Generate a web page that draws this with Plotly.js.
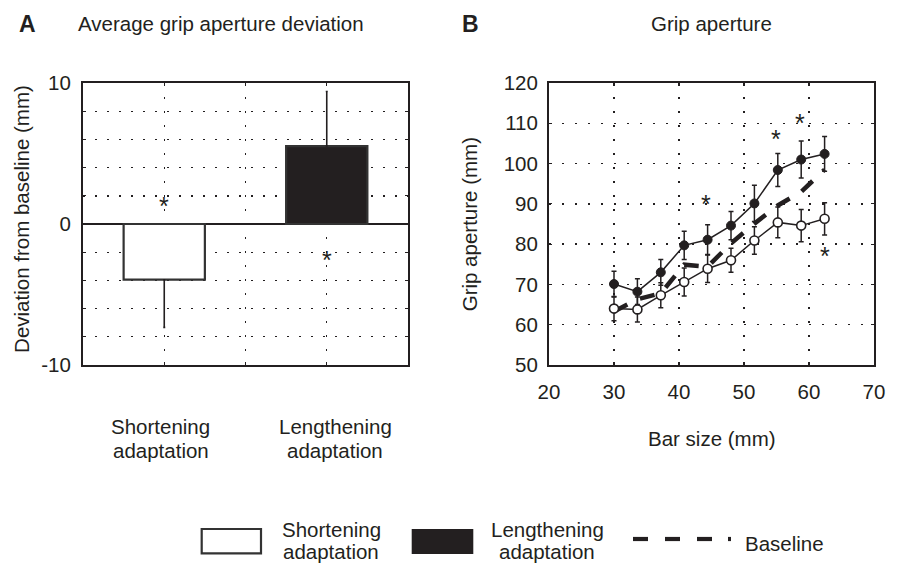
<!DOCTYPE html>
<html>
<head>
<meta charset="utf-8">
<script src="https://cdn.plot.ly/plotly-3.0.1.min.js"></script>
<style>
  html, body { margin: 0; padding: 0; background: #ffffff; }
  #chart { width: 897px; height: 564px; }
</style>
</head>
<body>
<div id="chart"></div>
<script>
// ---------- Panel A data ----------
const conditionsA = ['Shortening adaptation', 'Lengthening adaptation'];
const categoryLinesA = [['Shortening', 'adaptation'], ['Lengthening', 'adaptation']];
const positionsA = [1, 2];
const deviationA = [-3.95, 5.53];
const errUpA = [0, 3.87];
const errDownA = [3.38, 0];
const yTicksA = [-10, -8, -6, -4, -2, 0, 2, 4, 6, 8, 10];
const yTickLabelsA = ['-10', '', '', '', '', '0', '', '', '', '', '10'];
const xGridA = [1, 1.5, 2];
const starXA = [1, 2];
const starYA = [1.72, -2.18];

// ---------- Panel B data ----------
const barSize = [30, 33.6, 37.2, 40.8, 44.4, 48.0, 51.6, 55.2, 58.8, 62.4];
const lengthening = [70.1, 68.2, 73.0, 79.7, 81.1, 84.6, 90.1, 98.4, 101.0, 102.4];
const lengtheningErr = [3.2, 3.2, 3.2, 3.5, 3.7, 3.5, 4.5, 4.1, 4.6, 4.3];
const shortening = [64.0, 63.8, 67.3, 70.6, 73.9, 76.0, 80.9, 85.4, 84.6, 86.3];
const shorteningErr = [3.0, 3.1, 3.1, 3.5, 3.4, 3.0, 3.4, 3.8, 4.0, 4.0];
const baseline = [63.3, 66.3, 67.8, 74.9, 74.4, 80.2, 85.1, 89.6, 93.0, 98.5];
const starXB = [44.2, 54.9, 58.6, 62.5];
const starYB = [91.4, 107.5, 111.5, 78.5];
const xTicksB = [20, 30, 40, 50, 60, 70];
const yTicksB = [50, 60, 70, 80, 90, 100, 110, 120];

// ---------- layout helpers ----------
const W = 897, H = 564;
const px = v => v / W;
const py = v => 1 - v / H;
const INK = '#231f20';
const FONT = 'Liberation Sans, Arial, Helvetica, sans-serif';
const FS = 20.5;
const STAR_FS = 25;

const traces = [
  {
    type: 'bar', x: positionsA, y: deviationA, width: 0.5,
    xaxis: 'x', yaxis: 'y',
    text: conditionsA, hoverinfo: 'text+y', textposition: 'none',
    marker: { color: ['#ffffff', INK], line: { color: '#333333', width: 2.2 } },
    error_y: { type: 'data', symmetric: false, array: errUpA, arrayminus: errDownA,
               color: INK, thickness: 1.6, width: 1 },
    showlegend: false
  },
  {
    type: 'scatter', mode: 'lines', x: barSize, y: baseline,
    xaxis: 'x2', yaxis: 'y2',
    line: { color: INK, width: 4.5, dash: '15px,14px' },
    showlegend: false, name: 'Baseline'
  },
  {
    type: 'scatter', mode: 'lines+markers', x: barSize, y: lengthening,
    xaxis: 'x2', yaxis: 'y2',
    line: { color: INK, width: 1.5 },
    marker: { symbol: 'circle', size: 9, color: INK, line: { color: INK, width: 1 } },
    error_y: { type: 'data', array: lengtheningErr, color: INK, thickness: 1.5, width: 2.5 },
    showlegend: false, name: 'Lengthening adaptation'
  },
  {
    type: 'scatter', mode: 'lines+markers', x: barSize, y: shortening,
    xaxis: 'x2', yaxis: 'y2',
    line: { color: INK, width: 1.5 },
    marker: { symbol: 'circle', size: 9, color: '#ffffff', line: { color: INK, width: 1.6 } },
    error_y: { type: 'data', array: shorteningErr, color: INK, thickness: 1.5, width: 2.5 },
    showlegend: false, name: 'Shortening adaptation'
  }
];

const axisCommon = {
  showline: true, linecolor: INK, linewidth: 2, mirror: 'allticks',
  ticks: 'inside', ticklen: 3, tickwidth: 1.2, tickcolor: INK,
  showgrid: true, gridcolor: INK, gridwidth: 1.4,
  zeroline: false,
  tickfont: { family: FONT, size: FS, color: INK },
  fixedrange: true
};

const domX_A = [px(83), px(408)];
const domX_B = [px(549), px(874)];
const domY = [py(365), py(83)];

const annotations = [];
function txt(text, x, y, opts) {
  annotations.push(Object.assign({
    text: text, x: x, y: y, xref: 'paper', yref: 'paper', showarrow: false,
    xanchor: 'center', yanchor: 'middle',
    font: { family: FONT, size: FS, color: INK }
  }, opts || {}));
}
// panel letters & titles
txt('<b>A</b>', px(27.5), py(24.3), { font: { family: FONT, size: 23, color: INK } });
txt('Average grip aperture deviation', px(221), py(23.6));
txt('<b>B</b>', px(470), py(24.3), { font: { family: FONT, size: 23, color: INK } });
txt('Grip aperture', px(711.5), py(23.9));
// axis titles
txt('Deviation from baseline (mm)', px(21.4), py(218.5), { textangle: -90 });
txt('Grip aperture (mm)', px(469.3), py(224), { textangle: -90 });
txt('Bar size (mm)', px(712), py(438));
// category labels under panel A
const catCenters = [160.7, 335];
categoryLinesA.forEach((lines, i) => {
  txt(lines[0], px(catCenters[i]), py(426.2));
  txt(lines[1], px(catCenters[i]), py(450.2));
});
// asterisks
starXA.forEach((x, i) => annotations.push({
  text: '*', x: x, y: starYA[i], xref: 'x', yref: 'y', showarrow: false,
  yshift: -0.23 * STAR_FS, font: { family: FONT, size: STAR_FS, color: INK }
}));
starXB.forEach((x, i) => annotations.push({
  text: '*', x: x, y: starYB[i], xref: 'x2', yref: 'y2', showarrow: false,
  yshift: -0.23 * STAR_FS, font: { family: FONT, size: STAR_FS, color: INK }
}));
// legend texts
txt('Shortening', px(331), py(529.6));
txt('adaptation', px(331), py(551.2));
txt('Lengthening', px(547), py(529.6));
txt('adaptation', px(547), py(551.2));
txt('Baseline', px(784), py(543));

const shapes = [
  { type: 'rect', xref: 'paper', yref: 'paper', x0: px(201.7), x1: px(261), y0: py(553.3), y1: py(529),
    fillcolor: '#ffffff', line: { color: '#333333', width: 2.2 } },
  { type: 'rect', xref: 'paper', yref: 'paper', x0: px(411.7), x1: px(473.3), y0: py(554), y1: py(529),
    fillcolor: INK, line: { color: INK, width: 0 } }
];
// legend dashed-line sample: three dashes and a trailing dot
[[633, 648], [665, 680], [697, 712], [728, 731]].forEach(seg => shapes.push({
  type: 'line', xref: 'paper', yref: 'paper', x0: px(seg[0]), x1: px(seg[1]), y0: py(539), y1: py(539),
  line: { color: INK, width: 4.2 }
}));

const layout = {
  width: W, height: H, autosize: false,
  margin: { l: 0, r: 0, t: 0, b: 0, pad: 0 },
  paper_bgcolor: '#ffffff', plot_bgcolor: '#ffffff',
  showlegend: false,
  font: { family: FONT, size: FS, color: INK },
  xaxis: Object.assign({}, axisCommon, {
    domain: domX_A, anchor: 'y', range: [0.5, 2.5],
    tickmode: 'array', tickvals: xGridA, showticklabels: false,
    griddash: '2px,12px'
  }),
  yaxis: Object.assign({}, axisCommon, {
    domain: domY, anchor: 'x', range: [-10, 10],
    tickmode: 'array', tickvals: yTicksA, ticktext: yTickLabelsA,
    griddash: '2px,10px', ticklabelstandoff: 6,
    zeroline: true, zerolinecolor: INK, zerolinewidth: 1.6
  }),
  xaxis2: Object.assign({}, axisCommon, {
    domain: domX_B, anchor: 'y2', range: [20, 70],
    tickmode: 'array', tickvals: xTicksB,
    griddash: '2px,12px', ticklabelstandoff: 7
  }),
  yaxis2: Object.assign({}, axisCommon, {
    domain: domY, anchor: 'x2', range: [50, 120],
    tickmode: 'array', tickvals: yTicksB,
    griddash: '2px,11px', ticklabelstandoff: 5
  }),
  annotations: annotations,
  shapes: shapes
};

Plotly.newPlot('chart', traces, layout, { displayModeBar: false, staticPlot: true });
</script>
</body>
</html>
